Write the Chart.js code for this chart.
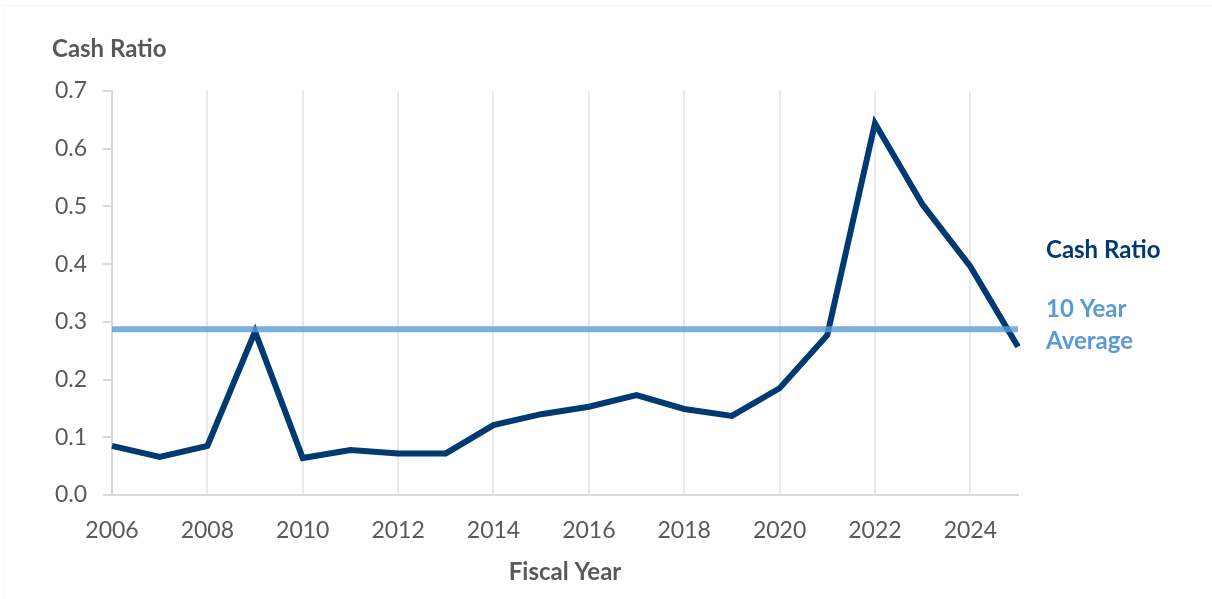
<!DOCTYPE html>
<html>
<head>
<meta charset="utf-8">
<title>Cash Ratio</title>
<script src="https://cdn.jsdelivr.net/npm/chart.js@4.4.1/dist/chart.umd.min.js"></script>
<style>
  html, body { margin: 0; padding: 0; background: #ffffff; }
  #wrap { position: relative; width: 1212px; height: 599px; }
</style>
</head>
<body>
<div id="wrap"><canvas id="chart" width="1212" height="599"></canvas></div>
<script>
// Fiscal years shown on the x axis
const fiscalYears = [2006, 2007, 2008, 2009, 2010, 2011, 2012, 2013, 2014, 2015,
                     2016, 2017, 2018, 2019, 2020, 2021, 2022, 2023, 2024, 2025];

// Cash ratio for each fiscal year
const cashRatio = [0.085, 0.066, 0.085, 0.283, 0.064, 0.078, 0.072, 0.072, 0.121, 0.140,
                   0.153, 0.173, 0.149, 0.137, 0.185, 0.277, 0.644, 0.503, 0.396, 0.257];

// 10 year average of the cash ratio
const tenYearAverage = 0.287;

// Y axis tick values
const yTicks = [0.0, 0.1, 0.2, 0.3, 0.4, 0.5, 0.6, 0.7];

const DARK = '#003a70';
const LIGHT = 'rgba(91,155,213,0.8)';
const GRAY = '#595959';
const FONT = 'Lato, "Open Sans", "Liberation Sans", sans-serif';

const averageSeries = fiscalYears.map(() => tenYearAverage);

// Titles and the line labels on the right side
const textPlugin = {
  id: 'chartText',
  beforeDraw(chart) {
    const ctx = chart.ctx;
    ctx.save();
    ctx.fillStyle = '#ffffff';
    ctx.fillRect(0, 0, chart.width, chart.height);
    // faint frame along the top and left edges
    ctx.strokeStyle = '#f5f5f5';
    ctx.lineWidth = 1;
    ctx.beginPath();
    ctx.moveTo(4.5, chart.height);
    ctx.lineTo(4.5, 5.5);
    ctx.lineTo(chart.width, 5.5);
    ctx.stroke();
    ctx.restore();
  },
  afterDraw(chart) {
    const ctx = chart.ctx;
    const area = chart.chartArea;
    ctx.save();
    ctx.textBaseline = 'middle';

    ctx.font = 'bold 24px ' + FONT;
    ctx.fillStyle = GRAY;
    ctx.textAlign = 'left';
    ctx.fillText('Cash Ratio', 52, 49);

    ctx.textAlign = 'center';
    ctx.fillText('Fiscal Year', (area.left + area.right) / 2, 572);

    const lx = area.right + 28;
    ctx.textAlign = 'left';
    ctx.font = 'bold 24px ' + FONT;
    ctx.fillStyle = DARK;
    ctx.fillText('Cash Ratio', lx, 250);

    ctx.fillStyle = '#5b9bd5';
    ctx.fillText('10 Year', lx, 309);
    ctx.fillText('Average', lx, 341);
    ctx.restore();
  }
};

new Chart(document.getElementById('chart'), {
  type: 'line',
  data: {
    labels: fiscalYears.map(String),
    datasets: [
      {
        label: '10 Year Average',
        data: averageSeries,
        borderColor: LIGHT,
        borderWidth: 6,
        pointRadius: 0,
        tension: 0,
        borderCapStyle: 'butt'
      },
      {
        label: 'Cash Ratio',
        data: cashRatio,
        borderColor: DARK,
        borderWidth: 6,
        pointRadius: 0,
        tension: 0,
        borderJoinStyle: 'miter',
        borderCapStyle: 'butt'
      }
    ]
  },
  options: {
    responsive: false,
    animation: false,
    devicePixelRatio: 1,
    layout: { padding: { left: 0, top: 91, right: 194, bottom: 0 } },
    plugins: {
      legend: { display: false },
      tooltip: { enabled: false }
    },
    scales: {
      x: {
        type: 'category',
        offset: false,
        grid: {
          display: true,
          drawOnChartArea: true,
          drawTicks: false,
          lineWidth: 2,
          color: (c) => (c.index % 2 === 0 ? '#e9e9e9' : 'rgba(0,0,0,0)')
        },
        border: { display: true, color: '#d9d9d9', width: 2 },
        ticks: {
          autoSkip: false,
          maxRotation: 0,
          padding: 22,
          color: GRAY,
          font: { family: FONT, size: 23 },
          callback: function (value, index) {
            const y = fiscalYears[index];
            return y % 2 === 0 ? String(y) : '';
          }
        },
        afterFit(scale) { scale.height = 104; }
      },
      y: {
        min: yTicks[0],
        max: yTicks[yTicks.length - 1],
        afterBuildTicks(scale) { scale.ticks = yTicks.map(v => ({ value: v })); },
        grid: {
          display: true,
          drawOnChartArea: false,
          drawTicks: true,
          tickLength: 9,
          lineWidth: 2,
          color: '#d9d9d9'
        },
        border: { display: true, color: '#d9d9d9', width: 2 },
        ticks: {
          padding: 16,
          color: GRAY,
          font: { family: FONT, size: 23 },
          callback: (v) => Number(v).toFixed(1)
        },
        afterFit(scale) { scale.width = 112; }
      }
    }
  },
  plugins: [textPlugin]
});
</script>
</body>
</html>
